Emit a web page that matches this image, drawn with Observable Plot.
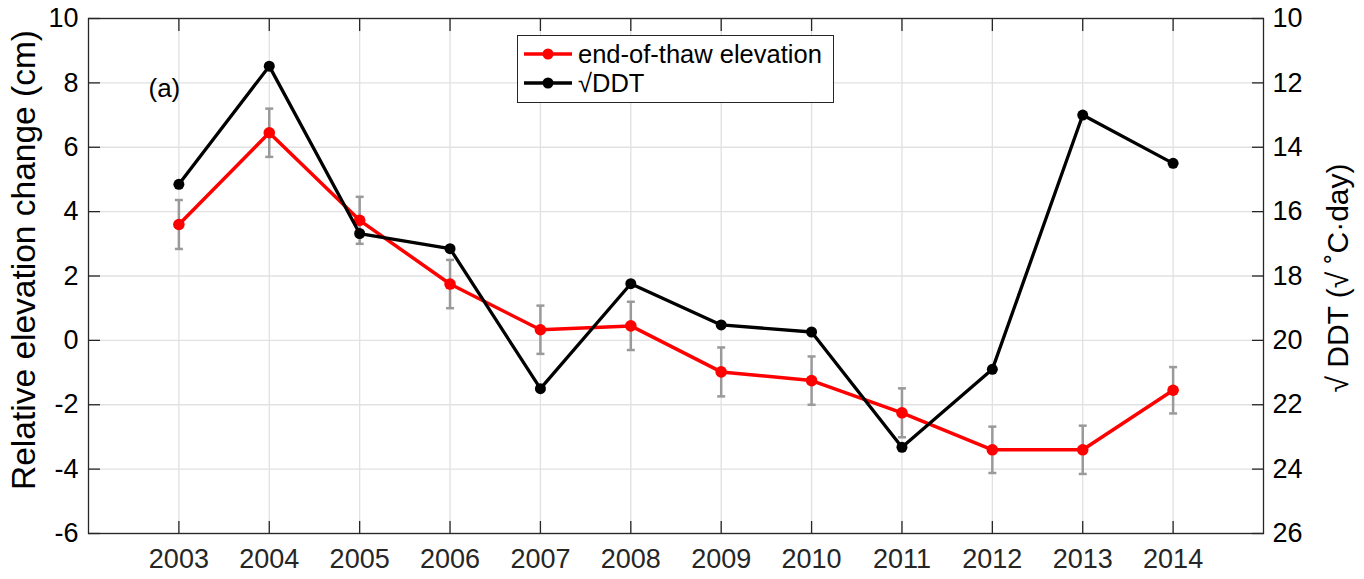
<!DOCTYPE html>
<html>
<head>
<meta charset="utf-8">
<script src="https://cdn.jsdelivr.net/npm/d3@7"></script>
<script src="https://cdn.jsdelivr.net/npm/@observablehq/plot@0.6"></script>
<style>
  html, body { margin: 0; padding: 0; background: #fff; }
  #wrap { position: relative; width: 1364px; height: 579px; font-family: "Liberation Sans", Arial, Helvetica, sans-serif; }
  #legend { position: absolute; left: 517px; top: 35px; width: 315px; height: 66px; border: 1px solid #262626; background: #fff; }
  .row { position: absolute; left: 5px; height: 30px; display: flex; align-items: center; font-size: 25.5px; color: #000; }
  .row svg { margin-right: 5px; }
</style>
</head>
<body>
<div id="wrap"></div>
<script>
// ---- data ----
const years = [2003, 2004, 2005, 2006, 2007, 2008, 2009, 2010, 2011, 2012, 2013, 2014];
const elevation = [3.60, 6.45, 3.73, 1.75, 0.33, 0.45, -0.98, -1.25, -2.25, -3.40, -3.40, -1.55];
const elevationErr = [0.76, 0.75, 0.73, 0.75, 0.75, 0.75, 0.76, 0.75, 0.76, 0.72, 0.75, 0.72];
const sqrtDDT = [15.15, 11.48, 16.68, 17.15, 21.50, 18.24, 19.52, 19.74, 23.32, 20.90, 13.00, 14.50];
const leftTicks = [-6, -4, -2, 0, 2, 4, 6, 8, 10];
const rightTicks = [10, 12, 14, 16, 18, 20, 22, 24, 26];
const leftLabel = "Relative elevation change (cm)";
const rightLabel = "\u221A DDT (\u221A \u02DAC\u00B7day)";
const panelLabel = "(a)";
const seriesNames = ["end-of-thaw elevation", "\u221ADDT"];
const seriesColors = ["#ff0000", "#000000"];

// right axis value r maps to left-axis position 20 - r
const toLeft = r => 20 - r;

const rows = years.map((yr, i) => ({
  year: yr, elev: elevation[i], err: elevationErr[i], ddt: sqrtDDT[i]
}));

const capSymbol = {
  draw(ctx, size) {
    const r = Math.sqrt(size / Math.PI);
    ctx.moveTo(-r, 0);
    ctx.lineTo(r, 0);
  }
};

const font = "'Liberation Sans', Arial, Helvetica, sans-serif";
const axisColor = "#262626";
const gridColor = "#e1e1e1";

const chart = Plot.plot({
  width: 1364,
  height: 579,
  marginLeft: 88,
  marginRight: 101,
  marginTop: 18,
  marginBottom: 46,
  style: { fontFamily: font, fontSize: "27px", color: axisColor, background: "#fff" },
  x: { domain: [2002, 2015] },
  y: { domain: [-6, 10] },
  marks: [
    Plot.gridX(years, { stroke: gridColor, strokeOpacity: 1, strokeWidth: 1.3 }),
    Plot.gridY(leftTicks, { stroke: gridColor, strokeOpacity: 1, strokeWidth: 1.3 }),
    // error bars
    Plot.ruleX(rows, { x: "year", y1: d => d.elev - d.err, y2: d => d.elev + d.err, stroke: "#9a9a9a", strokeWidth: 2.5 }),
    Plot.dot(rows, { x: "year", y: d => d.elev - d.err, symbol: capSymbol, r: 4, stroke: "#9a9a9a", strokeWidth: 2.5 }),
    Plot.dot(rows, { x: "year", y: d => d.elev + d.err, symbol: capSymbol, r: 4, stroke: "#9a9a9a", strokeWidth: 2.5 }),
    // end-of-thaw elevation
    Plot.line(rows, { x: "year", y: "elev", stroke: seriesColors[0], strokeWidth: 3.5 }),
    Plot.dot(rows, { x: "year", y: "elev", r: 5.8, fill: seriesColors[0], stroke: "none" }),
    // sqrt DDT (right axis, reversed)
    Plot.line(rows, { x: "year", y: d => toLeft(d.ddt), stroke: seriesColors[1], strokeWidth: 3.3 }),
    Plot.dot(rows, { x: "year", y: d => toLeft(d.ddt), r: 5.5, fill: seriesColors[1], stroke: "none" }),
    // frame
    Plot.frame({ stroke: axisColor, strokeWidth: 1.3 }),
    // inner ticks
    Plot.axisX(years, { anchor: "bottom", tickSize: -12, text: null, label: null, stroke: axisColor, strokeWidth: 1.3 }),
    Plot.axisX(years, { anchor: "top", tickSize: -12, text: null, label: null, stroke: axisColor, strokeWidth: 1.3 }),
    Plot.axisY(leftTicks, { anchor: "left", tickSize: -12, text: null, label: null, stroke: axisColor, strokeWidth: 1.3 }),
    Plot.axisY(rightTicks.map(toLeft), { anchor: "right", tickSize: -12, text: null, label: null, stroke: axisColor, strokeWidth: 1.3 }),
    // tick labels
    Plot.axisX(years, { anchor: "bottom", tickSize: 0, tickPadding: 15, tickFormat: d => String(d), label: null, fontSize: 27, fill: axisColor }),
    Plot.axisY(leftTicks, { anchor: "left", tickSize: 0, tickPadding: 10, tickFormat: d => String(d), label: null, fontSize: 27, fill: "#000" }),
    Plot.axisY(rightTicks.map(toLeft), { anchor: "right", tickSize: 0, tickPadding: 9, tickFormat: v => String(toLeft(v)), label: null, fontSize: 27, fill: "#000" }),
    // axis titles
    Plot.text([leftLabel], { frameAnchor: "left", textAnchor: "middle", lineAnchor: "middle", rotate: -90, dx: -64, dy: -16, fontSize: 33.5, fill: "#000", text: d => d }),
    Plot.text([rightLabel], { frameAnchor: "right", textAnchor: "middle", lineAnchor: "middle", rotate: -90, dx: 75, dy: 2, fontSize: 30, fill: "#000", text: d => d }),
    // panel label
    Plot.text([panelLabel], { frameAnchor: "top-left", dx: 60, dy: 70, textAnchor: "start", lineAnchor: "middle", fontSize: 26, fill: "#000", text: d => d })
  ]
});

const wrap = document.getElementById("wrap");
wrap.appendChild(chart);

// legend
const legend = document.createElement("div");
legend.id = "legend";
seriesNames.forEach((name, i) => {
  const row = document.createElement("div");
  row.className = "row";
  row.style.top = (i === 0 ? 3 : 32) + "px";
  const sw = d3.create("svg").attr("width", 50).attr("height", 20);
  sw.append("line").attr("x1", 1).attr("x2", 49).attr("y1", 10).attr("y2", 10)
    .attr("stroke", seriesColors[i]).attr("stroke-width", 3.5);
  sw.append("circle").attr("cx", 25).attr("cy", 10).attr("r", 5.5).attr("fill", seriesColors[i]);
  row.appendChild(sw.node());
  const t = document.createElement("span");
  t.textContent = name;
  row.appendChild(t);
  legend.appendChild(row);
});
wrap.appendChild(legend);
</script>
</body>
</html>
